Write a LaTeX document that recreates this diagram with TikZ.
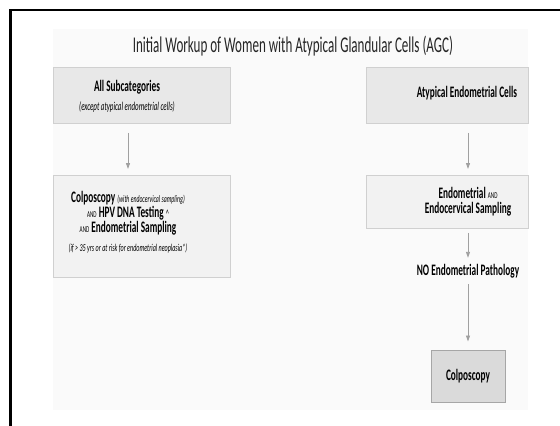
\documentclass[tikz,border=0pt]{standalone}
\usepackage{fontspec}
\setmainfont{Carlito}[FakeStretch=0.58]
\usetikzlibrary{arrows.meta}
\definecolor{panelbg}{HTML}{FAFAFA}
\definecolor{boxtop}{HTML}{E8E8E8}
\definecolor{boxmid}{HTML}{F2F2F2}
\definecolor{boxend}{HTML}{DADADA}
\definecolor{edge}{HTML}{D0D0D0}
\definecolor{arrowgray}{HTML}{A0A0A0}
\newcommand{\fsz}[1]{\fontsize{#1}{#1}\selectfont}
\newcommand{\andword}{{\fsz{9}AND}}
\newcommand{\bigb}[1]{{\bfseries\fsz{16}#1}}
\tikzset{
  flowbox/.style={draw=edge, line width=0.8pt, inner sep=0pt, anchor=north west},
  label/.style={align=center, inner sep=1pt, text=black,
    font=\fontsize{16}{19}\selectfont},
  flowarrow/.style={draw=arrowgray, line width=0.9pt,
    -{Triangle[length=6pt,width=4pt]}},
}
\begin{document}
\begin{tikzpicture}[x=1pt,y=-1pt]
\useasboundingbox (0,0) rectangle (560,426);
\fill[white] (0,0) rectangle (560,426);
% light panel behind the chart
\fill[panelbg] (53,29) rectangle (528,410);
% frame lines
\draw[line width=2.6pt, black] (10.5,426) -- (10.5,10) -- (560,10);

% title
\node[label, font=\fsz{22.5}, text=black!85] (title) at (293,46)
  {Initial Workup of Women with Atypical Glandular Cells (AGC)};

% left column
\node[flowbox, fill=boxtop, minimum width=177pt, minimum height=56pt] (lt) at (53,67) {};
\node[label] (ltt) at (127,96)
  {\bigb{All Subcategories}\\{\itshape\fsz{12}(except atypical endometrial cells)}};

\node[flowbox, fill=boxmid, minimum width=177pt, minimum height=102pt] (lm) at (53,175) {};
\node[label] (lmt) at (128,222.5)
  {\bigb{Colposcopy} {\itshape\fsz{10}(with endocervical sampling)}\\[-4pt]
   \andword\ \bigb{HPV DNA Testing} {\fsz{11}\textasciicircum}\\[-4pt]
   \andword\ \bigb{Endometrial Sampling}\\
   {\itshape\fsz{10.5}(if > 35 yrs or at risk for endometrial neoplasia*)}};

% right column
\node[flowbox, fill=boxtop, minimum width=162pt, minimum height=56pt] (rt) at (366,67) {};
\node[label] (rtt) at (467,93) {\bigb{Atypical Endometrial Cells}};

\node[flowbox, fill=boxmid, minimum width=162pt, minimum height=53pt] (rm) at (366,175) {};
\node[label] (rmt) at (468,202)
  {\bigb{Endometrial} \andword\\[-4pt]\bigb{Endocervical Sampling}};

\node[label, inner sep=6pt] (nop) at (468,271) {\bigb{NO Endometrial Pathology}};

\node[draw=black!35, line width=1pt, fill=boxend, minimum width=74pt, minimum height=52pt,
  inner sep=0pt, text=black] (colpo) at (468,376) {\bigb{Colposcopy}};

% connectors
\draw[flowarrow, shorten <=9pt, shorten >=6pt] (lt.south -| lmt.center) -- (lm.north -| lmt.center);
\draw[flowarrow, shorten <=9pt, shorten >=6pt] (rt.south -| nop.center) -- (rm.north -| nop.center);
\draw[flowarrow, shorten <=4pt, shorten >=0pt] (rm.south -| nop.center) -- (nop.north);
\draw[flowarrow, shorten <=0pt, shorten >=8pt] (nop.south) -- (colpo.north);
\end{tikzpicture}
\end{document}
